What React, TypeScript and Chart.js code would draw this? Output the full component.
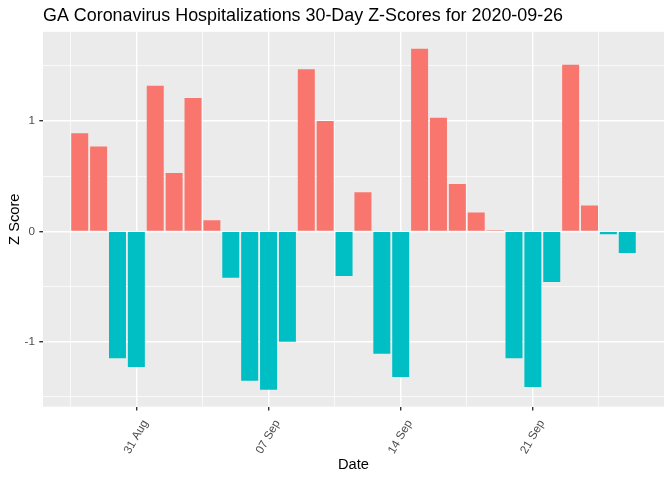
import React, { useEffect, useRef } from "react";
import { Chart, registerables } from "chart.js";

Chart.register(...registerables);

// ---- data ----
const dates = [
  "2020-08-28", "2020-08-29", "2020-08-30", "2020-08-31", "2020-09-01",
  "2020-09-02", "2020-09-03", "2020-09-04", "2020-09-05", "2020-09-06",
  "2020-09-07", "2020-09-08", "2020-09-09", "2020-09-10", "2020-09-11",
  "2020-09-12", "2020-09-13", "2020-09-14", "2020-09-15", "2020-09-16",
  "2020-09-17", "2020-09-18", "2020-09-19", "2020-09-20", "2020-09-21",
  "2020-09-22", "2020-09-23", "2020-09-24", "2020-09-25", "2020-09-26",
];
const zScores = [
  0.89, 0.77, -1.15, -1.23, 1.32,
  0.53, 1.21, 0.1, -0.42, -1.355,
  -1.435, -1.0, 1.47, 1.0, -0.405,
  0.355, -1.11, -1.32, 1.655, 1.03,
  0.43, 0.17, 0.01, -1.15, -1.41,
  -0.46, 1.51, 0.235, -0.025, -0.195,
];
const xTickDates = ["2020-08-31", "2020-09-07", "2020-09-14", "2020-09-21"];
const xTickLabels = ["31 Aug", "07 Sep", "14 Sep", "21 Sep"];
const yTickValues = [-1, 0, 1];
const yTickLabels = ["-1", "0", "1"];

const titleText = "GA Coronavirus Hospitalizations 30-Day Z-Scores for 2020-09-26";
const xTitle = "Date";
const yTitle = "Z Score";

const POS_COLOR = "#F8766D";
const NEG_COLOR = "#00BFC4";
const FONT = "'Liberation Sans', Arial, Helvetica, sans-serif";

const dayNum = (s: string) => {
  const [y, m, d] = s.split("-").map(Number);
  return Date.UTC(y, m - 1, d) / 86400000;
};
const base = dayNum(dates[0]);
const xs = dates.map((d) => dayNum(d) - base);
const majorX = xTickDates.map((d) => dayNum(d) - base);

// ggplot-like limits (bar width 0.9, 5% expansion)
const barHalf = 0.45;
const xLo = Math.min(...xs) - barHalf;
const xHi = Math.max(...xs) + barHalf;
const xMin = xLo - 0.05 * (xHi - xLo);
const xMax = xHi + 0.05 * (xHi - xLo);
const yLo = Math.min(0, ...zScores);
const yHi = Math.max(0, ...zScores);
const yMin = yLo - 0.05 * (yHi - yLo);
const yMax = yHi + 0.05 * (yHi - yLo);

// minor breaks midway between majors
const xStep = majorX[1] - majorX[0];
const xAllTicks: number[] = [];
for (let v = majorX[0] - xStep / 2; v <= xMax; v += xStep / 2) {
  if (v >= xMin) xAllTicks.push(v);
}
const yStep = yTickValues[1] - yTickValues[0];
const yAllTicks: number[] = [];
for (let v = Math.ceil(yMin / (yStep / 2)) * (yStep / 2); v <= yMax; v += yStep / 2) {
  yAllTicks.push(Math.round(v * 1000) / 1000);
}

const isMajorX = (v: number) => majorX.some((m) => Math.abs(m - v) < 1e-6);
const isMajorY = (v: number) => yTickValues.some((m) => Math.abs(m - v) < 1e-6);

const panelBg = {
  id: "panelBg",
  beforeDraw(chart: any) {
    const { ctx, chartArea } = chart;
    ctx.save();
    ctx.fillStyle = "#EBEBEB";
    ctx.fillRect(chartArea.left, chartArea.top, chartArea.width, chartArea.height);
    ctx.restore();
  },
};

export default function App() {
  const ref = useRef<HTMLCanvasElement | null>(null);

  useEffect(() => {
    if (!ref.current) return;
    const chart = new Chart(ref.current, {
      type: "bar",
      data: {
        datasets: [
          {
            data: xs.map((x, i) => ({ x, y: zScores[i] })),
            backgroundColor: zScores.map((v) => (v >= 0 ? POS_COLOR : NEG_COLOR)),
            borderWidth: 0,
            barPercentage: 0.9,
            categoryPercentage: 1,
          },
        ],
      },
      plugins: [panelBg],
      options: {
        responsive: false,
        animation: false,
        devicePixelRatio: 1,
        layout: { padding: { left: 0, right: 8, top: 0, bottom: 0 } },
        plugins: {
          legend: { display: false },
          tooltip: { enabled: false },
          title: {
            display: true,
            text: titleText,
            align: "start",
            fullSize: false,
            color: "#000000",
            font: { family: FONT, size: 17.9, weight: "normal", lineHeight: 1.2 },
            padding: { top: 5.4, bottom: 4.9 },
          },
        },
        scales: {
          x: {
            type: "linear",
            min: xMin,
            max: xMax,
            offset: false,
            border: { display: false },
            afterBuildTicks: (scale: any) => {
              scale.ticks = xAllTicks.map((v) => ({ value: v }));
            },
            afterFit: (scale: any) => {
              scale.height = 73.3;
            },
            grid: {
              offset: false,
              color: "#FFFFFF",
              lineWidth: (c: any) => (isMajorX(c.tick.value) ? 1.4 : 0.7),
              tickColor: (c: any) => (isMajorX(c.tick.value) ? "#333333" : "rgba(0,0,0,0)"),
              tickWidth: 1.4,
              tickLength: 3.7,
            },
            ticks: {
              autoSkip: false,
              minRotation: 60,
              maxRotation: 60,
              padding: 7,
              labelOffset: 9,
              color: "#4D4D4D",
              font: { family: FONT, size: 11.7 },
              callback: (v: any) => {
                const i = majorX.findIndex((m) => Math.abs(m - Number(v)) < 1e-6);
                return i >= 0 ? xTickLabels[i] : "";
              },
            },
            title: {
              display: true,
              text: xTitle,
              color: "#000000",
              font: { family: FONT, size: 14.67, lineHeight: 1.2 },
              padding: { top: 0, bottom: 6.3 },
            },
          },
          y: {
            type: "linear",
            min: yMin,
            max: yMax,
            border: { display: false },
            afterBuildTicks: (scale: any) => {
              scale.ticks = yAllTicks.map((v) => ({ value: v }));
            },
            afterFit: (scale: any) => {
              scale.width = 43;
            },
            grid: {
              color: "#FFFFFF",
              lineWidth: (c: any) => (isMajorY(c.tick.value) ? 1.4 : 0.7),
              tickColor: (c: any) => (isMajorY(c.tick.value) ? "#333333" : "rgba(0,0,0,0)"),
              tickWidth: 1.4,
              tickLength: 3.7,
            },
            ticks: {
              autoSkip: false,
              padding: 4.3,
              color: "#4D4D4D",
              font: { family: FONT, size: 11.7 },
              callback: (v: any) => {
                const i = yTickValues.findIndex((m) => Math.abs(m - Number(v)) < 1e-6);
                return i >= 0 ? yTickLabels[i] : "";
              },
            },
            title: {
              display: true,
              text: yTitle,
              color: "#000000",
              font: { family: FONT, size: 14.67, lineHeight: 1.2 },
              padding: { top: 6.2, bottom: 0 },
            },
          },
        },
      } as any,
    });
    return () => chart.destroy();
  }, []);

  return (
    <div style={{ position: "absolute", left: 0, top: 0, width: 672, height: 480, background: "#FFFFFF" }}>
      <canvas ref={ref} width={672} height={480} />
    </div>
  );
}
